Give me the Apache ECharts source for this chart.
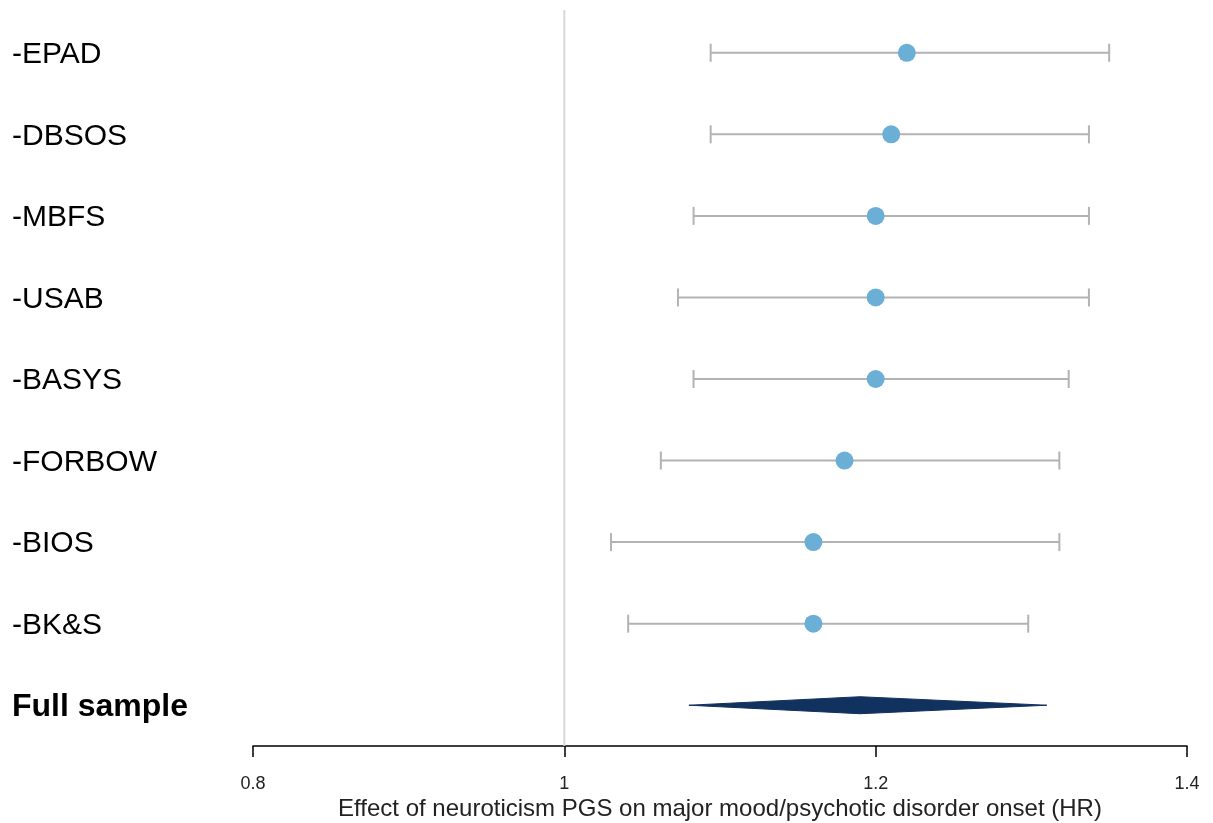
<!DOCTYPE html>
<html><head><meta charset="utf-8">
<script src="https://cdn.jsdelivr.net/npm/echarts@6/dist/echarts.min.js"></script>
<style>html,body{margin:0;padding:0;background:#fff}#c{width:1213px;height:823px}</style>
</head><body><div id="c"></div>
<script>
const studies = ["-EPAD","-DBSOS","-MBFS","-USAB","-BASYS","-FORBOW","-BIOS","-BK&S"];
const estimates = [1.220,1.210,1.200,1.200,1.200,1.180,1.160,1.160];
const lower = [1.094,1.094,1.083,1.073,1.083,1.062,1.030,1.041];
const upper = [1.350,1.337,1.337,1.337,1.324,1.318,1.318,1.298];
const pooledLabel = "Full sample";
const pooled = {est:1.190, lo:1.080, hi:1.310};
const xTicks = [0.8,1.0,1.2,1.4];
const refValue = 1.0;
const xTitle = "Effect of neuroticism PGS on major mood/psychotic disorder onset (HR)";

const categories = studies.concat([pooledLabel]);
const FONT = '"Liberation Sans", Arial, Helvetica, sans-serif';

const chart = echarts.init(document.getElementById('c'), null, {renderer:'canvas'});
chart.setOption({
  animation:false,
  backgroundColor:'#fff',
  grid:{left:253, right:26, top:12, bottom:77, containLabel:false, outerBoundsMode:'none'},
  xAxis:{
    type:'value', min:0.8, max:1.4, interval:0.2,
    splitLine:{show:false},
    axisLine:{show:true, lineStyle:{color:'#000', width:1.5}},
    axisTick:{show:true, length:11, lineStyle:{color:'#000', width:1.5}},
    axisLabel:{fontFamily:FONT, fontSize:18, color:'#222', margin:29,
      formatter:v=>{const t=xTicks.find(x=>Math.abs(x-v)<1e-9); return t===undefined?'':String(+t.toFixed(1));}},
    name:xTitle, nameLocation:'middle', nameGap:51, nameMoveOverlap:false,
    nameTextStyle:{fontFamily:FONT, fontSize:24, color:'#222'}
  },
  yAxis:{
    type:'category', data:categories, inverse:true, boundaryGap:true,
    axisLine:{show:false}, axisTick:{show:false}, splitLine:{show:false},
    axisLabel:{
      align:'left', margin:241, fontFamily:FONT, color:'#000',
      formatter:(v)=> v===pooledLabel ? '{b|'+v+'}' : '{n|'+v+'}',
      rich:{
        n:{fontFamily:FONT, fontSize:30, color:'#000', padding:[4,0,0,0]},
        b:{fontFamily:FONT, fontSize:32, fontWeight:'bold', color:'#000', padding:[4,0,0,0]}
      }
    }
  },
  series:[
    {
      type:'custom',
      name:'ref',
      data:[[refValue]],
      renderItem:(params, api)=>{
        const x = api.coord([refValue, 0])[0];
        const cs = params.coordSys;
        return {type:'line', shape:{x1:x, y1:cs.y-2, x2:x, y2:cs.y+cs.height},
          style:{stroke:'#d9d9d9', lineWidth:2}};
      },
      z:1
    },
    {
      type:'custom',
      name:'ci',
      data:studies.map((s,i)=>[lower[i], upper[i], i]),
      encode:{x:[0,1], y:2},
      renderItem:(params, api)=>{
        const i = api.value(2);
        const p1 = api.coord([api.value(0), i]);
        const p2 = api.coord([api.value(1), i]);
        const h = 9;
        const st = {stroke:'#b3b3b3', lineWidth:2};
        return {type:'group', children:[
          {type:'line', shape:{x1:p1[0], y1:p1[1], x2:p2[0], y2:p2[1]}, style:st},
          {type:'line', shape:{x1:p1[0], y1:p1[1]-h, x2:p1[0], y2:p1[1]+h}, style:st},
          {type:'line', shape:{x1:p2[0], y1:p2[1]-h, x2:p2[0], y2:p2[1]+h}, style:st}
        ]};
      },
      z:2
    },
    {
      type:'scatter',
      name:'est',
      data:studies.map((s,i)=>[estimates[i], i]),
      symbol:'circle', symbolSize:18,
      itemStyle:{color:'#6baed6', opacity:1},
      z:3
    },
    {
      type:'custom',
      name:'pooled',
      data:[[pooled.lo, pooled.est, pooled.hi, categories.length-1]],
      encode:{x:[0,1,2], y:3},
      renderItem:(params, api)=>{
        const r = api.value(3);
        const a = api.coord([api.value(0), r]);
        const m = api.coord([api.value(1), r]);
        const b = api.coord([api.value(2), r]);
        const h = 8.5;
        return {type:'polygon', shape:{points:[[a[0],a[1]],[m[0],m[1]-h],[b[0],b[1]],[m[0],m[1]+h]]},
          style:{fill:'#11325e', stroke:'#11325e', lineWidth:1}};
      },
      z:3
    }
  ]
});
</script>
</body></html>
